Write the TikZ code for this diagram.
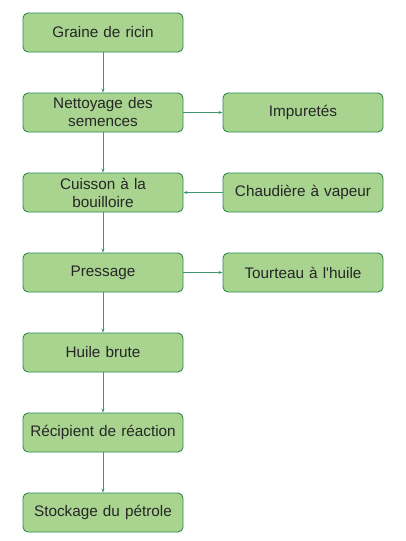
\documentclass[tikz,border=0pt]{standalone}
\usepackage{fontspec}
\setmainfont{Liberation Sans}
\usetikzlibrary{arrows.meta}
\definecolor{boxfill}{HTML}{A9D490}
\definecolor{boxline}{HTML}{2E8B4E}
\definecolor{arrcol}{HTML}{3A9A6E}
\begin{document}
\begin{tikzpicture}[x=1pt,y=-1pt,
  box/.style={draw=boxline, line width=0.9pt, fill=boxfill, rounded corners=5pt,
    minimum width=160pt, minimum height=39pt, align=center, text width=156pt,
    font=\fontsize{15.3}{18}\selectfont, inner sep=1pt, text=black!85},
  conn/.style={draw=arrcol, line width=0.6pt, -{Stealth[length=4pt,width=3pt]}}]
\useasboundingbox (0,0) rectangle (405,541);
\node[box] (a) at (103,32.5) {Graine de ricin};
\node[box] (b) at (103,112.5) {Nettoyage des\\semences};
\node[box] (c) at (103,192.5) {Cuisson à la\\bouilloire};
\node[box] (d) at (103,272.5) {Pressage};
\node[box] (e) at (103,352.5) {Huile brute};
\node[box] (f) at (103,432.5) {Récipient de réaction};
\node[box] (g) at (103,512.5) {Stockage du pétrole};
\node[box] (i) at (303,112.5) {Impuretés};
\node[box] (v) at (303,192.5) {Chaudière à vapeur};
\node[box] (t) at (303,272.5) {Tourteau à l\textquotesingle huile};
\draw[conn] (a) -- (b);
\draw[conn] (b) -- (c);
\draw[conn] (c) -- (d);
\draw[conn] (d) -- (e);
\draw[conn] (e) -- (f);
\draw[conn] (f) -- (g);
\draw[conn] (b) -- (i);
\draw[conn] (v) -- (c);
\draw[conn] (d) -- (t);
\end{tikzpicture}
\end{document}
